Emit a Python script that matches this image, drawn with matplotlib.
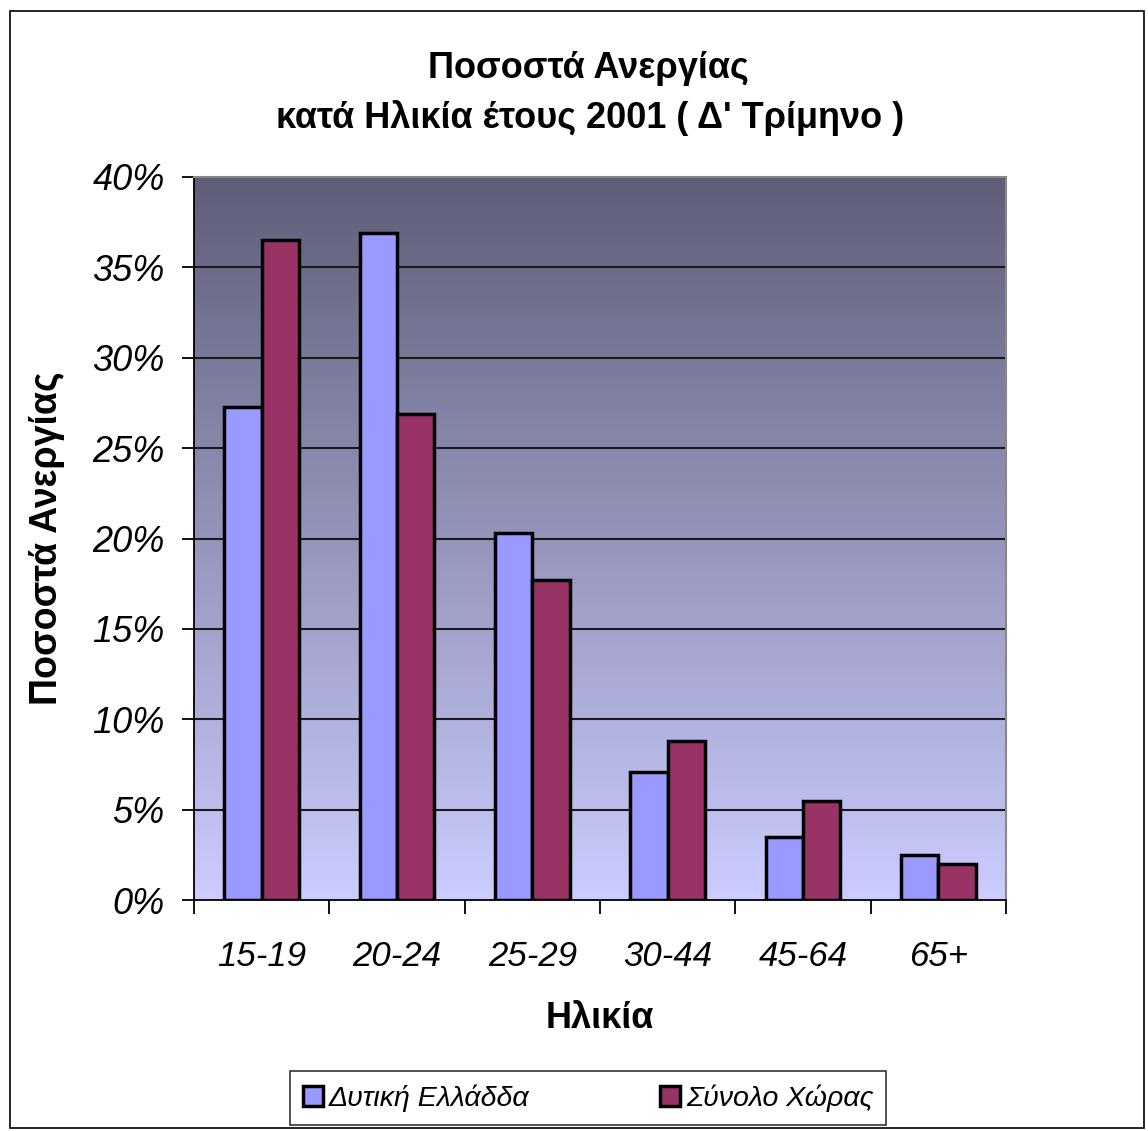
import numpy as np
import matplotlib
matplotlib.use("Agg")
import matplotlib.pyplot as plt
from matplotlib.patches import Rectangle
from matplotlib.ticker import FuncFormatter

plt.rcParams["font.family"] = ["Liberation Sans", "DejaVu Sans"]

categories = ["15-19", "20-24", "25-29", "30-44", "45-64", "65+"]
dytiki = [27.3, 36.9, 20.3, 7.1, 3.5, 2.5]
synolo = [36.5, 26.9, 17.7, 8.8, 5.5, 2.0]
series_names = ["Δυτική Ελλάδδα", "Σύνολο Χώρας"]

W, H = 1148, 1131
fig = plt.figure(figsize=(W / 100, H / 100), dpi=100)
fig.patches.append(Rectangle((10 / W, 3 / H), 1134 / W, 1117 / H, transform=fig.transFigure,
                             fill=False, edgecolor="black", linewidth=1.2))

ax = fig.add_axes([194 / W, 1 - 900 / H, 812 / W, 723 / H])

# gradient background, dark at top
grad = np.linspace(0, 1, 256).reshape(-1, 1)
top = np.array([0x5e, 0x5e, 0x78]) / 255
bot = np.array([0xcc, 0xcc, 0xff]) / 255
img = top + (bot - top) * grad[:, :, None]
ax.imshow(img, extent=[-0.5, len(categories) - 0.5, 0, 40], origin="upper",
          aspect="auto", zorder=0)

x = np.arange(len(categories))
bw = 0.275
ax.bar(x - bw / 2, dytiki, bw, color="#9999ff", edgecolor="black", linewidth=2.5, zorder=3,
       label=series_names[0])
ax.bar(x + bw / 2, synolo, bw, color="#993366", edgecolor="black", linewidth=2.5, zorder=3,
       label=series_names[1])

ax.set_xlim(-0.5, len(categories) - 0.5)
ax.set_ylim(0, 40)
ax.set_yticks(np.arange(0, 41, 5))
ax.yaxis.set_major_formatter(FuncFormatter(lambda v, p: f"{int(v)}%"))
for yv in np.arange(5, 40, 5):
    ax.axhline(yv, color="#1a1a1a", linewidth=1.5, zorder=1)

ax.set_xticks(x)
ax.set_xticklabels(categories, fontsize=25, style="italic")
ax.set_xticks(np.arange(-0.5, len(categories)), minor=True)
ax.tick_params(axis="x", which="major", length=0, pad=29)
ax.tick_params(axis="x", which="minor", length=10, width=1.3)
ax.tick_params(axis="y", length=9, width=1.3, labelsize=26, pad=12)
for t in ax.get_yticklabels():
    t.set_fontstyle("italic")

for s in ["top", "right"]:
    ax.spines[s].set_color("#888888")
    ax.spines[s].set_linewidth(1.5)
ax.spines["left"].set_linewidth(1.3)
ax.spines["bottom"].set_linewidth(1.3)

ax.set_xlabel("Ηλικία", fontsize=26, fontweight="bold", labelpad=20)
ax.set_ylabel("Ποσοστά Ανεργίας", fontsize=27, fontweight="bold", labelpad=20)
fig.text(588 / W, 1 - 68 / H, "Ποσοστά Ανεργίας", ha="center", va="center",
         fontsize=26, fontweight="bold")
fig.text(590 / W, 1 - 118 / H, "κατά Ηλικία έτους 2001 ( Δ' Τρίμηνο )", ha="center", va="center",
         fontsize=26, fontweight="bold")

leg = fig.legend(loc="center", bbox_to_anchor=(588 / W, 1 - 1098 / H), ncol=2,
                 prop={"size": 20.5, "style": "italic"}, frameon=True, fancybox=False,
                 edgecolor="black", handlelength=0.7, handleheight=0.7, handletextpad=0.2,
                 columnspacing=4.6, borderpad=0.45, borderaxespad=0)
leg.get_frame().set_linewidth(1.2)
for h in leg.legend_handles:
    h.set_linewidth(2.5)

fig.savefig("out.png", dpi=100)
